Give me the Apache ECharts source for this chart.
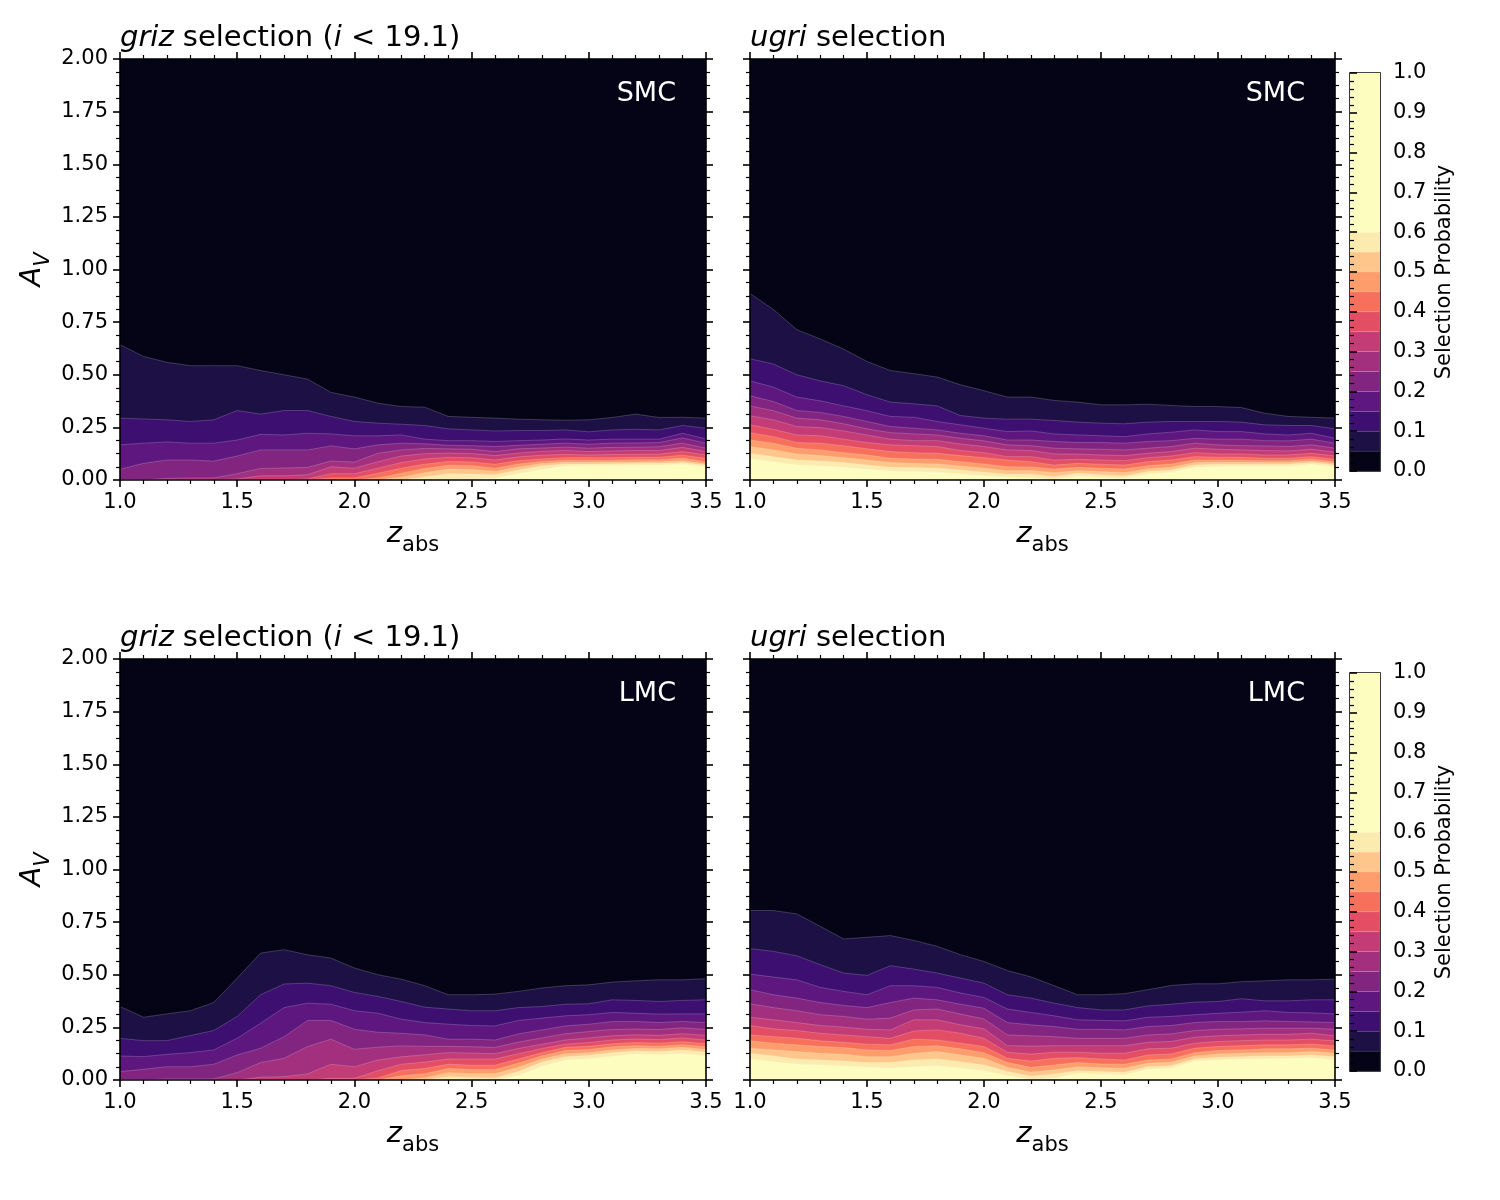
<!DOCTYPE html>
<html>
<head>
<meta charset="utf-8">
<script src="https://cdn.jsdelivr.net/npm/echarts@6.0.0/dist/echarts.min.js"></script>
<style>
  html, body { margin: 0; padding: 0; background: #fff; }
  #main { width: 1500px; height: 1200px; }
</style>
</head>
<body>
<div id="main"></div>
<script>
// absorber redshift grid
const zAbs = [1.0, 1.1, 1.2, 1.3, 1.4, 1.5, 1.6, 1.7, 1.8, 1.9, 2.0, 2.1, 2.2,
  2.3, 2.4, 2.5, 2.6, 2.7, 2.8, 2.9, 3.0, 3.1, 3.2, 3.3, 3.4, 3.5];

// contour levels of the selection probability (band i is levels[i-1]..levels[i])
const levels = [0.05, 0.1, 0.15, 0.2, 0.25, 0.3, 0.35, 0.4, 0.45, 0.5, 0.55, 0.6];
const cbEdges = [0, 0.05, 0.1, 0.15, 0.2, 0.25, 0.3, 0.35, 0.4, 0.45, 0.5, 0.55, 0.6, 1.0];
const cbTicks = [0, 0.1, 0.2, 0.3, 0.4, 0.5, 0.6, 0.7, 0.8, 0.9, 1.0];

// magma, sampled at the band centres
const bandColors = ['#050417', '#1c1044', '#3d0f71', '#5e177f', '#812581', '#a3307e',
  '#c43c75', '#e34e65', '#f7705c', '#fe9d6c', '#fec68a', '#fcebae', '#fcfdbf'];

// A_V at which the probability drops below each level (one row per level, L0.05 .. L0.60)
const grizSMC = [
  [.643,.587,.559,.543,.543,.543,.520,.500,.479,.416,.394,.365,.349,.346,.302,.298,.294,.289,.286,.284,.286,.297,.313,.297,.298,.294],
  [.294,.290,.286,.278,.286,.330,.313,.330,.330,.302,.278,.270,.265,.259,.243,.238,.233,.235,.235,.238,.229,.238,.241,.238,.259,.246],
  [.167,.175,.181,.175,.175,.190,.217,.214,.222,.219,.210,.210,.214,.194,.187,.187,.183,.187,.190,.195,.190,.194,.194,.194,.222,.195],
  [.051,.079,.095,.095,.090,.114,.143,.143,.143,.162,.148,.167,.175,.172,.165,.163,.159,.165,.170,.175,.170,.175,.176,.178,.200,.175],
  [0,0,.008,.010,.010,.030,.055,.057,.060,.090,.085,.127,.143,.150,.148,.146,.135,.148,.152,.156,.151,.155,.156,.158,.175,.151],
  [0,0,0,0,0,.005,.020,.020,.025,.063,.056,.087,.114,.125,.128,.126,.116,.128,.136,.140,.135,.138,.140,.140,.155,.135],
  [0,0,0,0,0,0,0,0,.005,.030,.030,.056,.083,.100,.108,.106,.095,.110,.118,.122,.119,.121,.122,.123,.135,.119],
  [0,0,0,0,0,0,0,0,0,.010,.010,.032,.056,.075,.088,.086,.075,.092,.100,.106,.106,.106,.108,.108,.118,.103],
  [0,0,0,0,0,0,0,0,0,0,0,.010,.032,.055,.070,.068,.056,.076,.088,.094,.094,.094,.096,.096,.104,.087],
  [0,0,0,0,0,0,0,0,0,0,0,0,.013,.035,.052,.050,.040,.062,.078,.084,.084,.085,.086,.087,.092,.077],
  [0,0,0,0,0,0,0,0,0,0,0,0,0,.015,.030,.028,.025,.048,.068,.076,.076,.077,.078,.079,.083,.071],
  [0,0,0,0,0,0,0,0,0,0,0,0,0,0,.005,.005,.008,.030,.050,.066,.068,.068,.070,.070,.075,.063]
];

const ugriSMC = [
  [.886,.810,.714,.670,.622,.563,.520,.505,.489,.452,.424,.394,.394,.378,.370,.357,.357,.360,.354,.349,.349,.344,.317,.302,.298,.294],
  [.576,.551,.500,.471,.448,.405,.370,.362,.352,.306,.294,.289,.289,.283,.275,.270,.267,.275,.278,.278,.278,.275,.262,.259,.259,.243],
  [.471,.441,.394,.376,.352,.329,.302,.298,.278,.262,.246,.230,.233,.219,.214,.210,.206,.219,.227,.238,.230,.230,.219,.214,.222,.198],
  [.400,.373,.330,.321,.302,.278,.254,.246,.238,.222,.210,.190,.190,.183,.178,.178,.175,.183,.187,.198,.194,.194,.187,.186,.194,.175],
  [.352,.329,.294,.286,.267,.243,.225,.219,.214,.198,.186,.167,.163,.151,.148,.146,.143,.151,.159,.175,.167,.163,.162,.159,.167,.151],
  [.305,.286,.254,.249,.233,.214,.194,.187,.187,.171,.159,.143,.140,.124,.123,.119,.116,.127,.135,.151,.146,.143,.140,.138,.146,.132],
  [.262,.241,.214,.210,.194,.178,.167,.163,.159,.140,.130,.111,.111,.095,.098,.095,.092,.106,.114,.130,.124,.124,.119,.119,.127,.114],
  [.225,.206,.178,.175,.163,.148,.135,.130,.127,.116,.106,.095,.087,.071,.079,.075,.071,.087,.095,.111,.108,.108,.103,.103,.111,.098],
  [.190,.175,.151,.143,.130,.119,.103,.100,.098,.087,.076,.063,.062,.052,.060,.056,.052,.068,.076,.095,.095,.095,.092,.092,.100,.087],
  [.159,.143,.124,.116,.106,.095,.083,.079,.076,.067,.056,.044,.045,.035,.044,.040,.035,.052,.060,.083,.084,.084,.083,.083,.090,.079],
  [.127,.111,.095,.090,.083,.071,.060,.059,.056,.048,.037,.027,.027,.016,.032,.025,.019,.040,.048,.071,.075,.075,.075,.075,.083,.071],
  [.100,.087,.071,.067,.060,.051,.043,.040,.037,.029,.019,.013,.010,.003,.019,.012,.008,.029,.037,.060,.063,.065,.065,.065,.075,.063]
];

const grizLMC = [
  [.349,.298,.314,.329,.368,.484,.603,.619,.595,.579,.532,.500,.479,.448,.405,.405,.408,.421,.437,.448,.452,.465,.471,.476,.476,.481],
  [.198,.187,.187,.211,.235,.302,.405,.456,.460,.448,.416,.397,.373,.346,.337,.329,.329,.344,.349,.360,.362,.381,.378,.373,.378,.381],
  [.114,.111,.122,.130,.143,.198,.270,.344,.365,.360,.329,.317,.289,.273,.265,.259,.257,.283,.294,.305,.310,.321,.317,.313,.314,.314],
  [.040,.051,.063,.063,.075,.119,.151,.206,.283,.283,.241,.227,.222,.214,.194,.194,.190,.219,.238,.257,.265,.278,.278,.273,.278,.273],
  [0,0,.005,.005,.005,.035,.083,.103,.159,.194,.146,.156,.162,.160,.160,.158,.155,.180,.200,.220,.230,.240,.242,.240,.248,.240],
  [0,0,0,0,0,0,.013,.016,.029,.075,.063,.095,.110,.120,.130,.128,.125,.150,.170,.190,.200,.210,.215,.212,.220,.212],
  [0,0,0,0,0,0,0,0,0,.008,.008,.044,.075,.085,.100,.100,.100,.125,.150,.170,.178,.190,.195,.192,.200,.190],
  [0,0,0,0,0,0,0,0,0,0,0,.010,.045,.055,.075,.070,.070,.100,.130,.155,.160,.172,.178,.175,.182,.172],
  [0,0,0,0,0,0,0,0,0,0,0,0,.020,.030,.055,.050,.050,.080,.115,.140,.145,.158,.163,.160,.168,.158],
  [0,0,0,0,0,0,0,0,0,0,0,0,0,.010,.035,.030,.030,.060,.100,.125,.130,.143,.150,.148,.155,.145],
  [0,0,0,0,0,0,0,0,0,0,0,0,0,0,.015,.012,.010,.040,.085,.110,.117,.130,.138,.135,.142,.132],
  [0,0,0,0,0,0,0,0,0,0,0,0,0,0,0,0,0,.020,.065,.095,.100,.113,.123,.120,.125,.115]
];

const ugriLMC = [
  [.805,.805,.789,.730,.670,.678,.686,.663,.635,.595,.563,.520,.490,.448,.405,.405,.410,.429,.449,.457,.457,.467,.471,.476,.476,.479],
  [.624,.611,.590,.548,.508,.497,.543,.527,.508,.484,.460,.405,.389,.365,.344,.333,.333,.352,.360,.370,.373,.386,.376,.376,.381,.381],
  [.503,.489,.476,.440,.421,.405,.448,.448,.440,.413,.392,.337,.321,.305,.286,.283,.281,.298,.302,.310,.317,.322,.329,.321,.319,.314],
  [.429,.405,.389,.368,.354,.344,.368,.389,.381,.360,.341,.273,.262,.254,.241,.241,.238,.254,.259,.273,.278,.278,.281,.278,.276,.273],
  [.362,.344,.329,.310,.302,.289,.294,.333,.337,.313,.290,.214,.210,.206,.198,.198,.198,.214,.219,.235,.241,.243,.246,.246,.246,.241],
  [.298,.286,.273,.259,.251,.241,.238,.286,.286,.262,.243,.163,.161,.163,.163,.163,.163,.179,.183,.203,.210,.214,.217,.217,.222,.210],
  [.259,.243,.235,.222,.214,.206,.198,.233,.238,.222,.198,.132,.123,.132,.132,.127,.127,.148,.151,.175,.183,.187,.190,.190,.194,.186],
  [.214,.206,.198,.186,.179,.170,.167,.194,.190,.175,.159,.103,.090,.103,.106,.100,.095,.119,.124,.151,.159,.163,.167,.167,.171,.162],
  [.186,.175,.167,.159,.154,.143,.140,.159,.163,.148,.130,.083,.060,.071,.083,.076,.075,.095,.100,.130,.140,.143,.148,.148,.151,.143],
  [.151,.143,.135,.127,.122,.111,.111,.127,.135,.119,.103,.060,.038,.048,.063,.058,.056,.079,.084,.114,.124,.127,.130,.130,.135,.127],
  [.127,.114,.100,.095,.090,.083,.083,.095,.100,.087,.071,.040,.018,.029,.044,.040,.037,.063,.068,.100,.108,.111,.114,.114,.119,.111],
  [.100,.087,.075,.071,.067,.060,.056,.063,.068,.056,.044,.019,.003,.008,.032,.027,.024,.051,.056,.090,.095,.098,.100,.103,.106,.095]
];

const FONT = 'DejaVu Sans';

const panels = [
  { rows: grizSMC, title: '{i|griz} selection ({i|i} < 19.1)', tag: 'SMC', yLabels: true },
  { rows: ugriSMC, title: '{i|ugri} selection', tag: 'SMC', yLabels: false },
  { rows: grizLMC, title: '{i|griz} selection ({i|i} < 19.1)', tag: 'LMC', yLabels: true },
  { rows: ugriLMC, title: '{i|ugri} selection', tag: 'LMC', yLabels: false }
];

const grids = [
  { left: 120, top: 59, width: 586, height: 421 },
  { left: 750, top: 59, width: 585, height: 421 },
  { left: 120, top: 659, width: 586, height: 421 },
  { left: 750, top: 659, width: 585, height: 421 },
  // colorbars
  { left: 1350, top: 73, width: 30, height: 398 },
  { left: 1350, top: 673, width: 30, height: 398 }
].map((g, i) => i < 4
  ? Object.assign(g, { show: true, backgroundColor: bandColors[0], borderWidth: 0 })
  : Object.assign(g, { show: true, borderColor: '#000', borderWidth: 1.6 }));

const black = { color: '#000', width: 1.6 };

function axisBase(gi, pos, labels) {
  return {
    gridIndex: gi,
    position: pos,
    z: 10,
    axisLine: { show: true, onZero: false, lineStyle: black },
    axisTick: { show: true, length: 7, lineStyle: black },
    axisLabel: { show: labels, color: '#000', fontFamily: FONT, fontSize: 21, margin: 12 },
    splitLine: { show: false }
  };
}

let xAxis = [];
let yAxis = [];
let titles = [];
let series = [];

panels.forEach((p, gi) => {
  const g = grids[gi];
  // bottom + top x axes
  ['bottom', 'top'].forEach((pos) => {
    const ax = axisBase(gi, pos, pos === 'bottom');
    Object.assign(ax, {
      type: 'value', min: 1, max: 3.5, interval: 0.5,
      minorTick: { show: true, splitNumber: 5, length: 4, lineStyle: { color: '#000', width: 1.2 } }
    });
    ax.axisLabel.formatter = (v) => v.toFixed(1);
    if (pos === 'bottom') {
      ax.name = '{i|z}{s|abs}';
      ax.nameLocation = 'middle';
      ax.nameGap = 40;
      ax.nameTextStyle = {
        color: '#000',
        rich: {
          i: { fontFamily: FONT, fontStyle: 'italic', fontSize: 29, verticalAlign: 'bottom', padding: [0, 0, 7, 0] },
          s: { fontFamily: FONT, fontSize: 21, verticalAlign: 'bottom' }
        }
      };
    }
    xAxis.push(ax);
  });
  // left + right y axes
  ['left', 'right'].forEach((pos) => {
    const ax = axisBase(gi, pos, pos === 'left' && p.yLabels);
    Object.assign(ax, {
      type: 'value', min: 0, max: 2, interval: 0.25,
      minorTick: { show: true, splitNumber: 4, length: 4, lineStyle: { color: '#000', width: 1.2 } }
    });
    ax.axisLabel.formatter = (v) => v.toFixed(2);
    if (pos === 'left' && p.yLabels) {
      ax.name = '{i|A}{s|V}';
      ax.nameLocation = 'middle';
      ax.nameRotate = 90;
      ax.nameGap = 66;
      ax.nameTextStyle = {
        color: '#000',
        rich: {
          i: { fontFamily: FONT, fontStyle: 'italic', fontSize: 29, verticalAlign: 'bottom', padding: [0, 0, 7, 0] },
          s: { fontFamily: FONT, fontStyle: 'italic', fontSize: 21, verticalAlign: 'bottom' }
        }
      };
    }
    yAxis.push(ax);
  });

  titles.push({
    text: p.title, left: g.left, top: g.top - 35, padding: 0,
    textStyle: {
      fontFamily: FONT, fontSize: 29, fontWeight: 'normal', color: '#000',
      rich: { i: { fontFamily: FONT, fontSize: 29, fontStyle: 'italic', color: '#000' } }
    }
  });
  titles.push({
    text: p.tag, right: 1500 - (g.left + g.width - 30), top: g.top + 21, padding: 0,
    textStyle: { fontFamily: FONT, fontSize: 27, fontWeight: 'normal', color: '#fff' }
  });

  // filled contours: each level filled from 0 up to its boundary, lowest level first
  p.rows.forEach((row, k) => {
    series.push({
      type: 'line',
      name: p.tag + ' p>' + levels[k],
      xAxisIndex: gi * 2,
      yAxisIndex: gi * 2,
      data: row.map((v, j) => [zAbs[j], v]),
      symbol: 'none',
      silent: true,
      animation: false,
      lineStyle: { width: 0.7, color: 'rgba(255,255,255,0.28)' },
      areaStyle: { color: bandColors[k + 1], opacity: 1, origin: 'start' }
    });
  });
});

// colorbars
[4, 5].forEach((gi) => {
  xAxis.push({ type: 'value', gridIndex: gi, min: 0, max: 1, show: false });
  yAxis.push({
    type: 'value', gridIndex: gi, position: 'right', min: 0, max: 1, interval: 0.1, z: 10,
    axisLine: { show: false },
    axisTick: { show: true, length: 7, lineStyle: black },
    minorTick: { show: true, splitNumber: 5, length: 4, lineStyle: { color: '#000', width: 1.2 } },
    axisLabel: {
      color: '#000', fontFamily: FONT, fontSize: 21, margin: 13,
      formatter: (v) => (cbTicks.some((t) => Math.abs(t - v) < 1e-6) ? v.toFixed(1) : '')
    },
    splitLine: { show: false },
    name: 'Selection Probability',
    nameLocation: 'middle',
    nameRotate: 90,
    nameGap: 54,
    nameTextStyle: { color: '#000', fontFamily: FONT, fontSize: 21 }
  });
  series.push({
    type: 'custom',
    xAxisIndex: xAxis.length - 1,
    yAxisIndex: yAxis.length - 1,
    silent: true,
    animation: false,
    data: bandColors.map((c, i) => [cbEdges[i], cbEdges[i + 1], i]),
    renderItem: (params, api) => {
      const lo = api.value(0);
      const hi = api.value(1);
      const p0 = api.coord([0, lo]);
      const p1 = api.coord([1, hi]);
      return {
        type: 'rect',
        shape: { x: p0[0], y: p1[1], width: p1[0] - p0[0], height: p0[1] - p1[1] },
        style: { fill: bandColors[api.value(2)], stroke: 'rgba(255,255,255,0.15)', lineWidth: 0.5 }
      };
    }
  });
});

const myChart = echarts.init(document.getElementById('main'), null, { width: 1500, height: 1200 });

let option = {
  backgroundColor: '#fff',
  animation: false,
  title: titles,
  grid: grids,
  xAxis,
  yAxis,
  series
};

option && myChart.setOption(option);
</script>
</body>
</html>
